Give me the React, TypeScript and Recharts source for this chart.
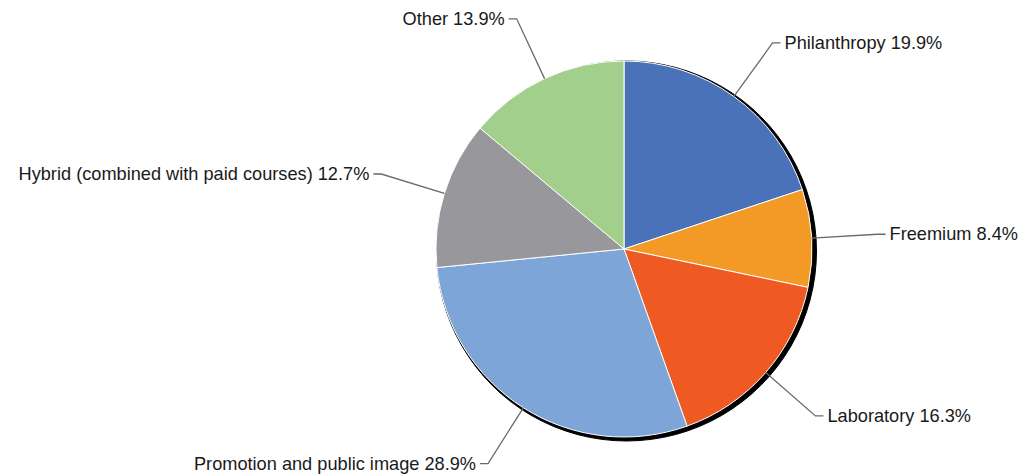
import React from 'react';
import { PieChart, Pie, Cell } from 'recharts';

const categories = [
  'Philanthropy',
  'Freemium',
  'Laboratory',
  'Promotion and public image',
  'Hybrid (combined with paid courses)',
  'Other',
];
const shares = [19.9, 8.4, 16.3, 28.9, 12.7, 13.9];
const colors = ['#4a72b8', '#f39a26', '#ee5a22', '#7ea5d8', '#98979c', '#a2cf8c'];

const data = categories.map((name, i) => ({ name, value: shares[i] }));
const shadow = [{ name: 'shadow', value: 1 }];

const RAD = Math.PI / 180;

const renderLabel = (props: any) => {
  const { cx, cy, midAngle, outerRadius, name, value } = props;
  const sin = Math.sin(-midAngle * RAD);
  const cos = Math.cos(-midAngle * RAD);
  const sx = cx + outerRadius * cos;
  const sy = cy + outerRadius * sin;
  const mx = cx + (outerRadius + 66) * cos;
  const my = cy + (outerRadius + 66) * sin;
  const right = mx > cx;
  const ex = mx + (right ? 8 : -8);
  const tx = ex + (right ? 4 : -4);
  return (
    <g>
      <path d={`M${sx},${sy}L${mx},${my}L${ex},${my}`} stroke="#6a6a6a" strokeWidth={1.3} fill="none" />
      <text
        x={tx}
        y={my}
        textAnchor={right ? 'start' : 'end'}
        dominantBaseline="central"
        fill="#1a1a1a"
        fontSize={18.2}
        fontFamily="'Liberation Sans', Arial, sans-serif"
      >
        {`${name} ${value}%`}
      </text>
    </g>
  );
};

export default function App() {
  return (
    <div style={{ position: 'absolute', left: 0, top: 0, width: 1020, height: 475, background: '#fff' }}>
      <PieChart width={1020} height={475} margin={{ top: 0, right: 0, bottom: 0, left: 0 }}>
        <Pie
          data={shadow}
          dataKey="value"
          cx={626.5}
          cy={251}
          outerRadius={190}
          startAngle={90}
          endAngle={-270}
          fill="#000"
          stroke="#000"
          strokeWidth={1}
          isAnimationActive={false}
        />
        <Pie
          data={data}
          dataKey="value"
          nameKey="name"
          cx={624}
          cy={249}
          outerRadius={188}
          startAngle={90}
          endAngle={-270}
          stroke="#fff"
          strokeWidth={1}
          label={renderLabel}
          labelLine={false}
          isAnimationActive={false}
        >
          {data.map((d, i) => (
            <Cell key={d.name} fill={colors[i]} />
          ))}
        </Pie>
      </PieChart>
    </div>
  );
}
